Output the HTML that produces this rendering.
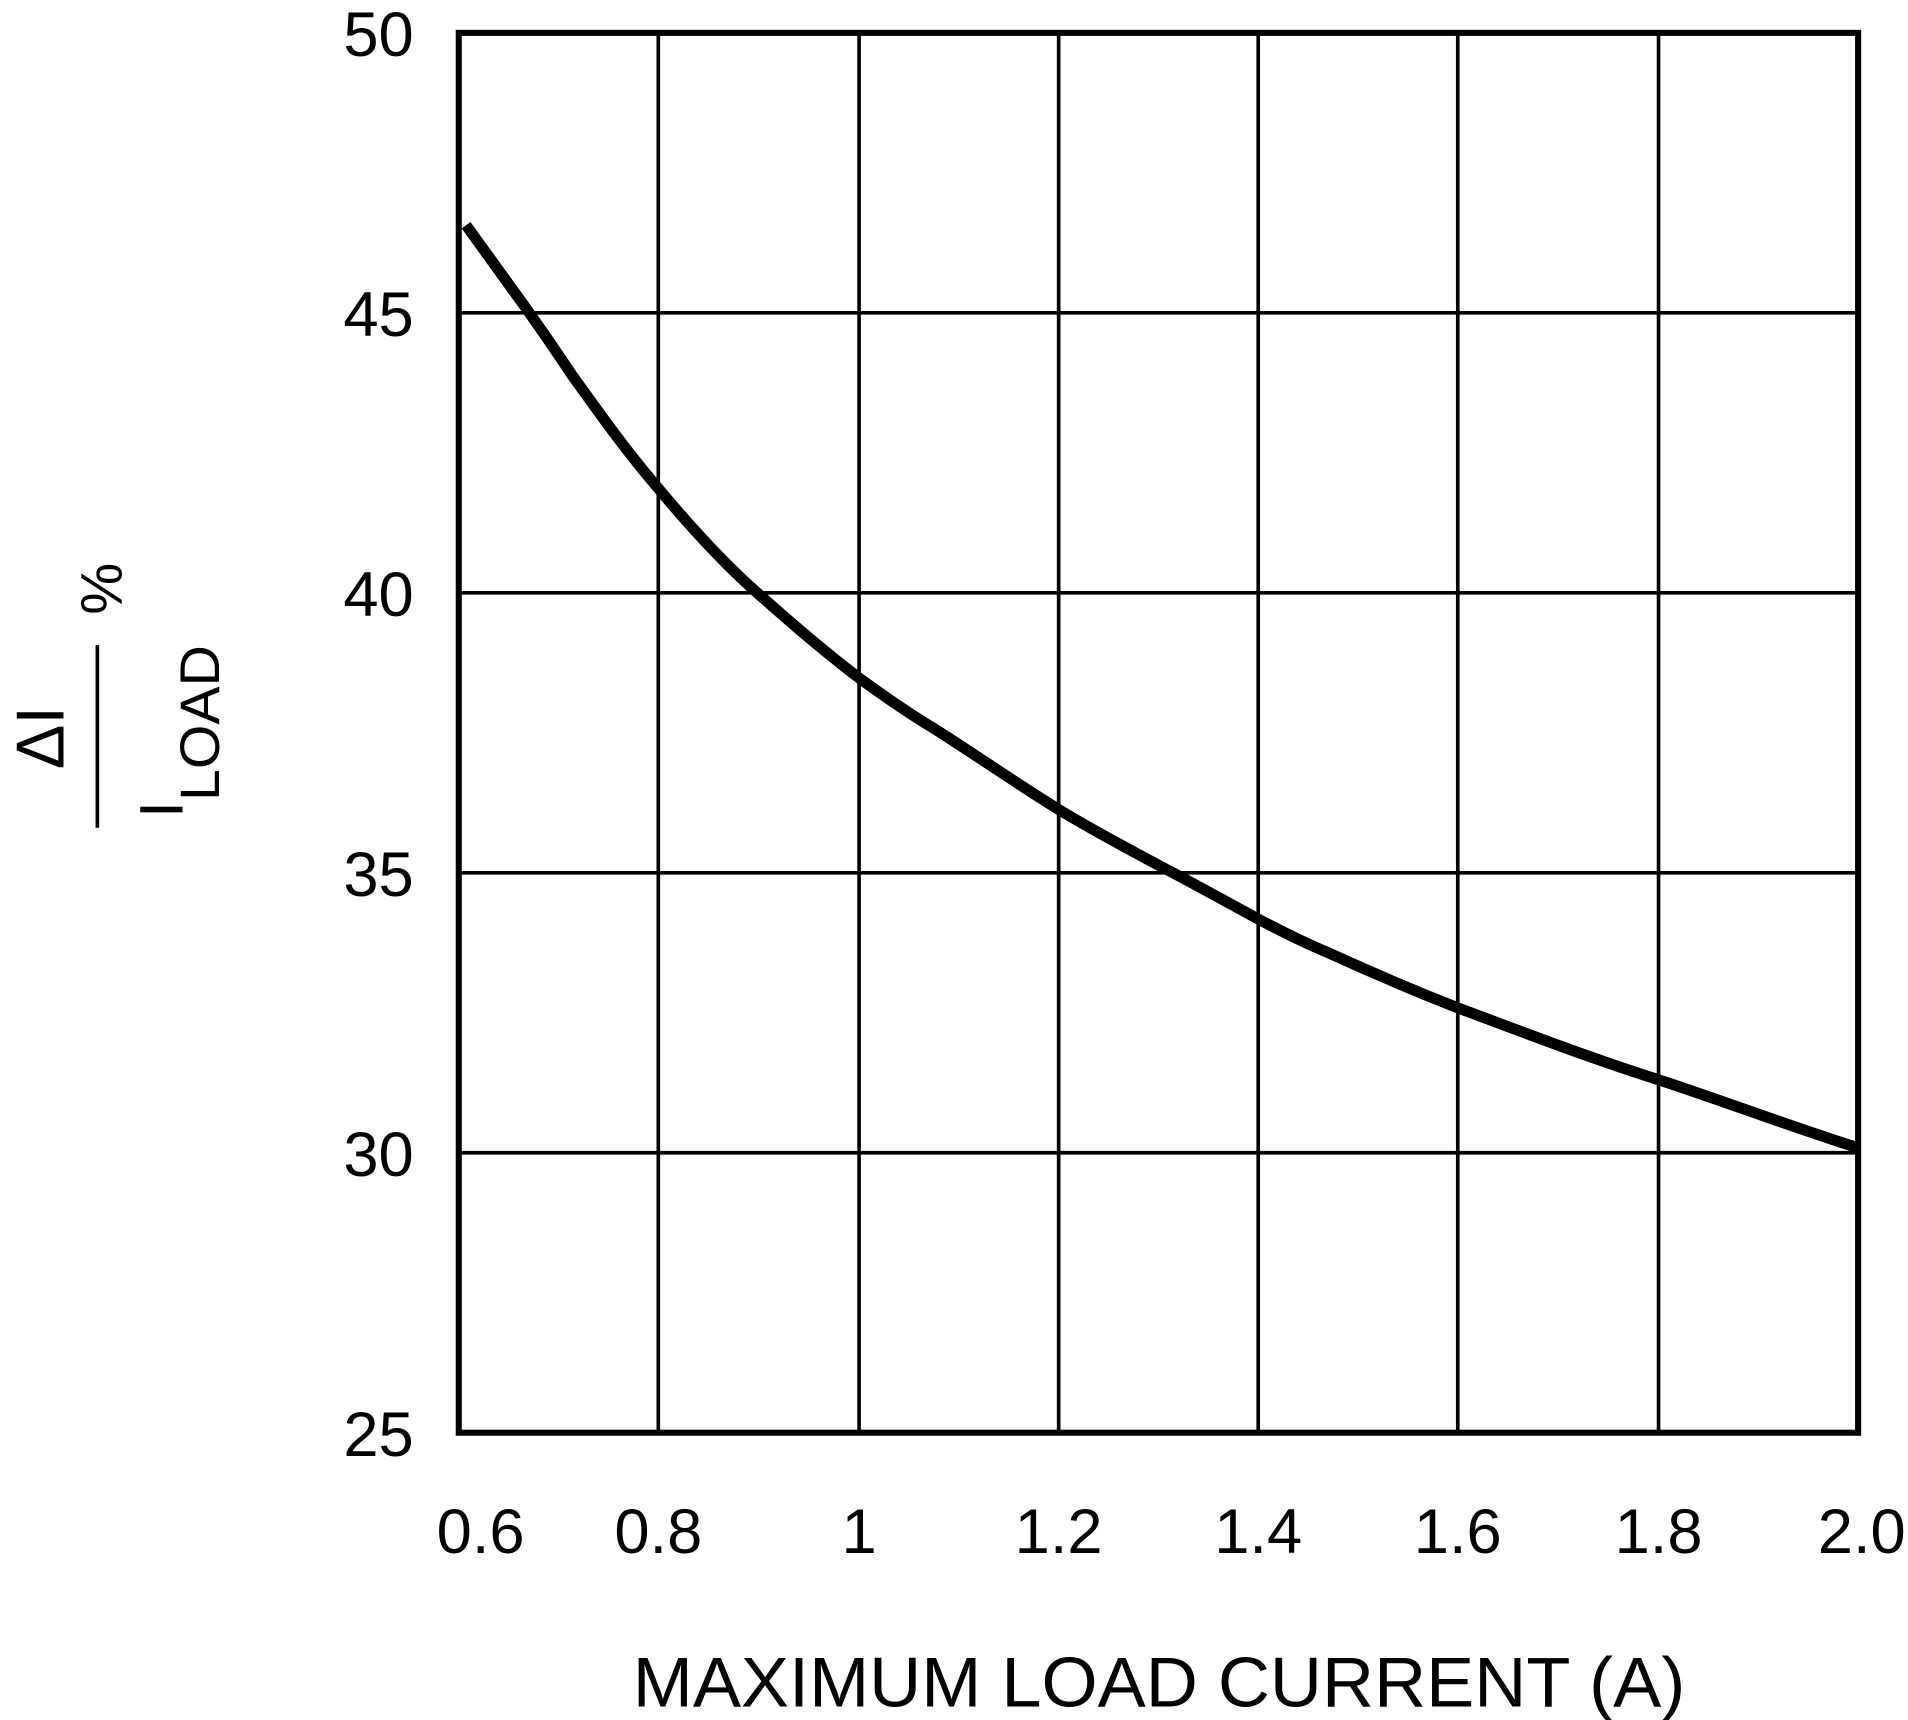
<!DOCTYPE html>
<html><head><meta charset="utf-8"><style>
html,body{margin:0;padding:0;background:#fff;}
svg{display:block;}
text{font-family:"Liberation Sans",sans-serif;fill:#000;}
</style></head><body>
<svg width="1908" height="1720" viewBox="0 0 1568 1413" preserveAspectRatio="none" xmlns="http://www.w3.org/2000/svg">
<g stroke="#000" stroke-width="3" fill="none">
<line x1="541" y1="27" x2="541" y2="1177"/>
<line x1="706" y1="27" x2="706" y2="1177"/>
<line x1="870" y1="27" x2="870" y2="1177"/>
<line x1="1034" y1="27" x2="1034" y2="1177"/>
<line x1="1198" y1="27" x2="1198" y2="1177"/>
<line x1="1363" y1="27" x2="1363" y2="1177"/>
<line x1="377" y1="257" x2="1527" y2="257"/>
<line x1="377" y1="487" x2="1527" y2="487"/>
<line x1="377" y1="717" x2="1527" y2="717"/>
<line x1="377" y1="947" x2="1527" y2="947"/>
<rect x="377" y="27" width="1150" height="1150" stroke-width="5"/>
</g>
<path d="M383,185 L430,250 C445,271 458,290 470,308 C493,340 515,371 540,400 C565,430 592,460 620,485 C648,510 677,535 706,557 C728,573 750,588 770,600 C803,621 836,644 870,665 C900,683 930,699 960,715 C985,728 1010,742 1034,755 C1053,765 1071,774 1090,782 C1125,798 1160,813 1198,828 C1252,848 1306,869 1363,887 C1418,905 1470,925 1527,943" stroke="#000" stroke-width="9" fill="none" stroke-linejoin="round"/>
<g font-size="52" text-anchor="end">
<text x="340" y="46">50</text>
<text x="340" y="276">45</text>
<text x="340" y="506">40</text>
<text x="340" y="736">35</text>
<text x="340" y="966">30</text>
<text x="340" y="1196">25</text>
</g>
<g font-size="52" text-anchor="middle">
<text x="395" y="1276">0.6</text>
<text x="541" y="1276">0.8</text>
<text x="706" y="1276">1</text>
<text x="870" y="1276">1.2</text>
<text x="1034" y="1276">1.4</text>
<text x="1198" y="1276">1.6</text>
<text x="1363" y="1276">1.8</text>
<text x="1530" y="1276">2.0</text>
</g>
<text x="520" y="1402" font-size="58" textLength="865" lengthAdjust="spacingAndGlyphs">MAXIMUM LOAD CURRENT (A)</text>
<g transform="rotate(-90)">
<text x="-632" y="52" font-size="56" textLength="52" lengthAdjust="spacingAndGlyphs">ΔI</text>
<line x1="-680" y1="80" x2="-530" y2="80" stroke="#000" stroke-width="3"/>
<text x="-505" y="100" font-size="48">%</text>
<text x="-672" y="150" font-size="50">I</text>
<text x="-658" y="180" font-size="46" textLength="128" lengthAdjust="spacingAndGlyphs">LOAD</text>
</g>
</svg>
</body></html>
